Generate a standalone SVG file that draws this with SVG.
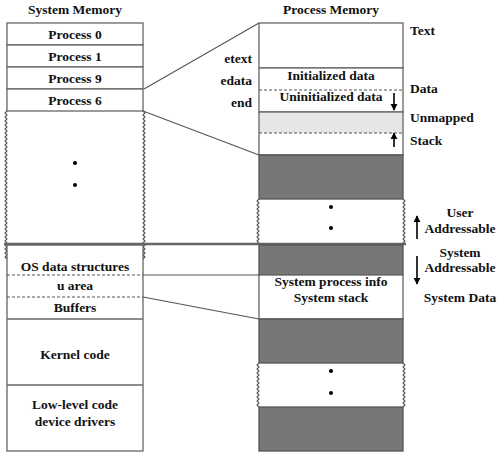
<svg xmlns="http://www.w3.org/2000/svg" width="500" height="454" viewBox="0 0 500 454">
<style>
text{font-family:'Liberation Serif','DejaVu Serif','Times New Roman',serif;font-weight:bold;font-size:13.5px;fill:#111}
.c{text-anchor:middle}
.r{text-anchor:end}
.box{fill:#fff;stroke:#666;stroke-width:1.3}
.dark{fill:#777;stroke:#555;stroke-width:1.3}
.grey{fill:#e6e6e6;stroke:none}
.sep{stroke:#666;stroke-width:1.3;fill:none}
.dash{stroke:#555;stroke-width:1;stroke-dasharray:3,2;fill:none}
.zz{stroke:#555;stroke-width:1.1;fill:none;stroke-linejoin:miter}
.conn{stroke:#555;stroke-width:1.1;fill:none}
.arr{stroke:#000;stroke-width:1.6;fill:none}
</style>
<defs>
<marker id="ah" viewBox="0 0 10 10" refX="9" refY="5" markerWidth="4.5" markerHeight="4.5" orient="auto" markerUnits="strokeWidth">
<path d="M0,0 L10,5 L0,10 z" fill="#000"/>
</marker>
</defs>

<g id="titles">
<text class="c" x="75" y="14">System Memory</text>
<text class="c" x="331" y="14">Process Memory</text>
</g>

<g id="system-memory-upper">
<rect class="box" x="7" y="23" width="136" height="22"/>
<rect class="box" x="7" y="45" width="136" height="22"/>
<rect class="box" x="7" y="67" width="136" height="22"/>
<rect class="box" x="7" y="89" width="136" height="22"/>
<text class="c" x="75" y="39">Process 0</text>
<text class="c" x="75" y="61">Process 1</text>
<text class="c" x="75" y="83">Process 9</text>
<text class="c" x="75" y="105">Process 6</text>
<path class="zz" d="M7,111 l-2,2 2,2 -2,2 2,2 -2,2 2,2 -2,2 2,2 -2,2 2,2 -2,2 2,2 -2,2 2,2 -2,2 2,2 -2,2 2,2 -2,2 2,2 -2,2 2,2 -2,2 2,2 -2,2 2,2 -2,2 2,2 -2,2 2,2 -2,2 2,2 -2,2 2,2 -2,2 2,2 -2,2 2,2 -2,2 2,2 -2,2 2,2 -2,2 2,2 -2,2 2,2 -2,2 2,2 -2,2 2,2 -2,2 2,2 -2,2 2,2 -2,2 2,2 -2,2 2,2 -2,2 2,2 -2,2 2,2 -2,2 2,2 -2,2 2,2 -2,2 2,2 -2,2 2,2 -2,2 2,2 -2,2 2,2"/>
<path class="zz" d="M143,111 l2,2 -2,2 2,2 -2,2 2,2 -2,2 2,2 -2,2 2,2 -2,2 2,2 -2,2 2,2 -2,2 2,2 -2,2 2,2 -2,2 2,2 -2,2 2,2 -2,2 2,2 -2,2 2,2 -2,2 2,2 -2,2 2,2 -2,2 2,2 -2,2 2,2 -2,2 2,2 -2,2 2,2 -2,2 2,2 -2,2 2,2 -2,2 2,2 -2,2 2,2 -2,2 2,2 -2,2 2,2 -2,2 2,2 -2,2 2,2 -2,2 2,2 -2,2 2,2 -2,2 2,2 -2,2 2,2 -2,2 2,2 -2,2 2,2 -2,2 2,2 -2,2 2,2 -2,2 2,2 -2,2 2,2 -2,2"/>
<circle cx="75" cy="163" r="2"/>
<circle cx="75" cy="185" r="2"/>
</g>

<g id="system-memory-lower">
<rect class="box" x="7" y="245" width="136" height="206"/>
<line class="dash" x1="7" y1="275" x2="143" y2="275"/>
<line class="dash" x1="7" y1="297" x2="143" y2="297"/>
<line class="sep" x1="7" y1="319" x2="143" y2="319"/>
<line class="sep" x1="7" y1="385" x2="143" y2="385"/>
<text class="c" x="75" y="271">OS data structures</text>
<text class="c" x="75" y="290">u area</text>
<text class="c" x="75" y="312">Buffers</text>
<text class="c" x="75" y="359">Kernel code</text>
<text class="c" x="75" y="409">Low-level code</text>
<text class="c" x="75" y="426">device drivers</text>
</g>

<line id="user-system-boundary" x1="4" y1="244" x2="406" y2="244" stroke="#666" stroke-width="2.6"/>

<g id="process-memory-upper">
<rect class="box" x="259" y="23" width="144" height="45"/>
<rect class="box" x="259" y="68" width="144" height="44"/>
<rect class="grey" x="259" y="112" width="144" height="21"/>
<rect x="259" y="112" width="144" height="43" fill="none" stroke="#666" stroke-width="1.3"/>
<line class="dash" x1="259" y1="90" x2="403" y2="90"/>
<line class="dash" x1="259" y1="133" x2="403" y2="133"/>
<rect class="dark" x="259" y="155" width="144" height="44"/>
<path class="zz" d="M259,199 l-2,2 2,2 -2,2 2,2 -2,2 2,2 -2,2 2,2 -2,2 2,2 -2,2 2,2 -2,2 2,2 -2,2 2,2 -2,2 2,2 -2,2 2,2 -2,2 2,2"/>
<path class="zz" d="M403,199 l2,2 -2,2 2,2 -2,2 2,2 -2,2 2,2 -2,2 2,2 -2,2 2,2 -2,2 2,2 -2,2 2,2 -2,2 2,2 -2,2 2,2 -2,2 2,2 -2,2"/>
<circle cx="331" cy="207" r="2"/>
<circle cx="331" cy="228" r="2"/>
<text class="c" x="331" y="80">Initialized data</text>
<text class="c" x="331" y="101">Uninitialized data</text>
<line class="arr" x1="394" y1="93" x2="394" y2="110" marker-end="url(#ah)"/>
<line class="arr" x1="394" y1="147" x2="394" y2="133" marker-end="url(#ah)"/>
<text class="r" x="252" y="63">etext</text>
<text class="r" x="252" y="85">edata</text>
<text class="r" x="252" y="107">end</text>
<text x="410" y="35">Text</text>
<text x="410" y="93">Data</text>
<text x="410" y="122">Unmapped</text>
<text x="410" y="145">Stack</text>
</g>

<g id="process-memory-lower">
<rect class="dark" x="259" y="245" width="144" height="30"/>
<rect class="box" x="259" y="275" width="144" height="44"/>
<rect class="dark" x="259" y="319" width="144" height="44"/>
<path class="zz" d="M259,363 l-2,2 2,2 -2,2 2,2 -2,2 2,2 -2,2 2,2 -2,2 2,2 -2,2 2,2 -2,2 2,2 -2,2 2,2 -2,2 2,2 -2,2 2,2 -2,2 2,2"/>
<path class="zz" d="M403,363 l2,2 -2,2 2,2 -2,2 2,2 -2,2 2,2 -2,2 2,2 -2,2 2,2 -2,2 2,2 -2,2 2,2 -2,2 2,2 -2,2 2,2 -2,2 2,2 -2,2"/>
<circle cx="331" cy="371" r="2"/>
<circle cx="331" cy="393" r="2"/>
<rect class="dark" x="259" y="407" width="144" height="44"/>
<text class="c" x="331" y="286">System process info</text>
<text class="c" x="331" y="302">System stack</text>
</g>

<g id="address-labels">
<line class="arr" x1="417" y1="239" x2="417" y2="216" marker-end="url(#ah)"/>
<line class="arr" x1="417" y1="256" x2="417" y2="284" marker-end="url(#ah)"/>
<text class="c" x="460" y="217">User</text>
<text class="c" x="460" y="233">Addressable</text>
<text class="c" x="460" y="257">System</text>
<text class="c" x="460" y="272">Addressable</text>
<text class="c" x="460" y="302">System Data</text>
</g>

<g id="connectors">
<line class="conn" x1="144" y1="89" x2="259" y2="23"/>
<line class="conn" x1="143" y1="111" x2="259" y2="155"/>
<line class="conn" x1="143" y1="275" x2="259" y2="275"/>
<line class="conn" x1="143" y1="297" x2="259" y2="319"/>
</g>
</svg>
